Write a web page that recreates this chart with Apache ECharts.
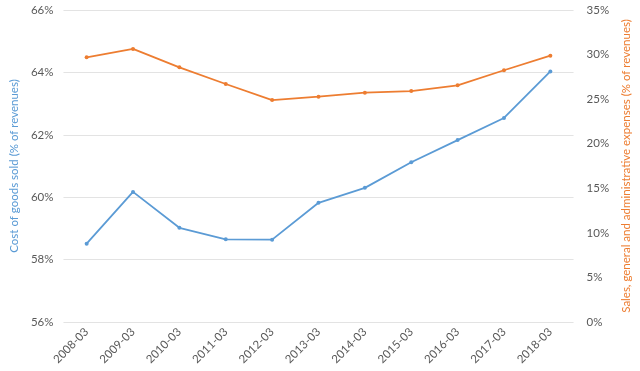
<!DOCTYPE html>
<html>
<head>
<meta charset="utf-8">
<script src="https://cdn.jsdelivr.net/npm/echarts@6/dist/echarts.min.js"></script>
<style>html,body{margin:0;padding:0;background:#fff}#c{width:640px;height:371px}</style>
</head>
<body>
<div id="c"></div>
<script>
const categories = ['2008-03','2009-03','2010-03','2011-03','2012-03','2013-03','2014-03','2015-03','2016-03','2017-03','2018-03'];
const cogs = [58.51, 60.17, 59.02, 58.65, 58.64, 59.82, 60.30, 61.12, 61.83, 62.54, 64.03];
const sga = [29.69, 30.63, 28.57, 26.70, 24.90, 25.28, 25.72, 25.91, 26.55, 28.24, 29.87];
const leftName = 'Cost of goods sold (% of revenues)';
const rightName = 'Sales, general and administrative expenses (% of revenues)';
const blue = '#5b9bd5', orange = '#ed7d31';
const font = 'Lato, "Open Sans", sans-serif';
const chart = echarts.init(document.getElementById('c'));
chart.setOption({
  animation: false,
  textStyle: {fontFamily: font},
  grid: {left: 56, right: 57, top: 10, bottom: 49},
  xAxis: {
    type: 'category', data: categories, boundaryGap: true,
    axisLine: {show: false}, axisTick: {show: false},
    axisLabel: {rotate: 45, color: '#595959', fontSize: 11.5, fontFamily: font, margin: 8, interval: 0}
  },
  yAxis: [{
    type: 'value', min: 56, max: 66, interval: 2, position: 'left',
    name: leftName, nameLocation: 'middle', nameGap: 35,
    nameTextStyle: {color: blue, fontSize: 11.5, fontFamily: font},
    axisLabel: {formatter: '{value}%', color: '#595959', fontSize: 11.5, fontFamily: font, margin: 10},
    axisLine: {show: false}, axisTick: {show: false},
    splitLine: {lineStyle: {color: '#e3e3e3'}}
  }, {
    type: 'value', min: 0, max: 35, interval: 5, position: 'right',
    name: rightName, nameLocation: 'middle', nameGap: 38,
    nameTextStyle: {color: orange, fontSize: 11.5, fontFamily: font},
    axisLabel: {formatter: '{value}%', color: '#595959', fontSize: 11.5, fontFamily: font, margin: 13},
    axisLine: {show: false}, axisTick: {show: false},
    splitLine: {show: false}
  }],
  series: [{
    type: 'line', data: cogs, yAxisIndex: 0,
    symbol: 'circle', symbolSize: 4,
    lineStyle: {color: blue, width: 1.8}, itemStyle: {color: blue}
  }, {
    type: 'line', data: sga, yAxisIndex: 1,
    symbol: 'circle', symbolSize: 4,
    lineStyle: {color: orange, width: 1.8}, itemStyle: {color: orange}
  }]
});
</script>
</body>
</html>
